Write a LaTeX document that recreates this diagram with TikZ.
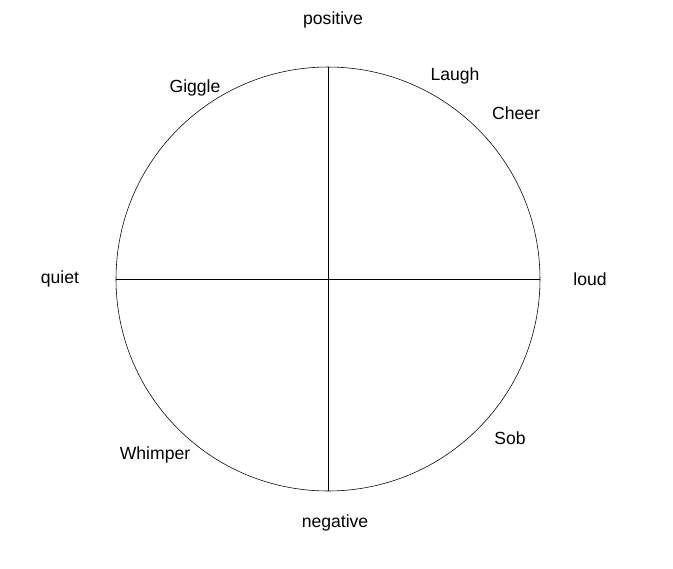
\documentclass[tikz,border=0pt]{standalone}
\usepackage{fontspec}
\setmainfont{Liberation Sans}
\usepackage{tikz}

\begin{document}
\begin{tikzpicture}[x=0.025cm, y=-0.025cm,
    lbl/.style={font=\fontsize{12.5}{15}\selectfont, inner sep=0pt}]

      \useasboundingbox (0, 0) rectangle (673, 568);

      \coordinate (o) at (328, 279);
      \draw (o) circle(212*0.025cm);

      \coordinate (top)    at (328, 67);
      \coordinate (bottom) at (328, 491);
      \coordinate (left)   at (116, 279);
      \coordinate (right)  at (540, 279);
      \draw (top)  -- (bottom);
      \draw (left) -- (right);

      \node[lbl] (positive) at (333, 20)  {positive};
      \node[lbl] (negative) at (335, 523) {negative};
      \node[lbl] (quiet)    at (60, 279)  {quiet};
      \node[lbl] (loud)     at (590, 279) {loud};
      \node[lbl] (laugh)    at (455, 76)  {Laugh};
      \node[lbl] (cheer)    at (516, 113) {Cheer};
      \node[lbl] (giggle)   at (195, 88)  {Giggle};
      \node[lbl] (sob)      at (510, 438) {Sob};
      \node[lbl] (whimper)  at (155, 455) {Whimper};
    \end{tikzpicture}
\end{document}
